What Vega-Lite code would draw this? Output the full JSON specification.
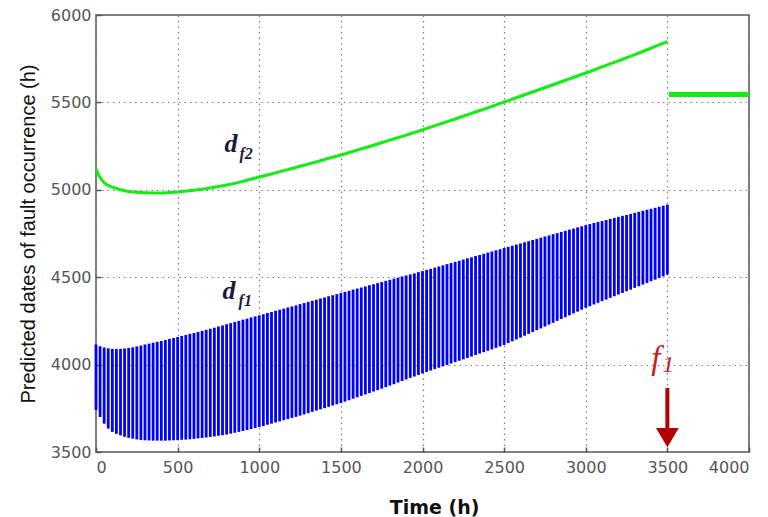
{
  "$schema": "https://vega.github.io/schema/vega-lite/v6.json",
  "width": 653,
  "height": 437,
  "autosize": {"type": "none"},
  "padding": {"left": 96, "top": 15, "right": 19, "bottom": 65},
  "background": "white",
  "config": {
    "view": {"stroke": "#555555", "strokeWidth": 1.5},
    "axis": {
      "labelFont": "DejaVu Sans",
      "labelFontSize": 16,
      "labelColor": "#555555",
      "gridColor": "#7a7a7a",
      "gridDash": [1.5, 4],
      "gridWidth": 1.2,
      "gridOpacity": 1,
      "domain": false,
      "tickColor": "#555555",
      "tickSize": -5,
      "tickWidth": 1.5,
      "format": "d"
    }
  },
  "datasets": {
    "band": [
      {"x":0,"lo":3740,"hi":4115},{"x":25,"lo":3700,"hi":4105},{"x":50,"lo":3662,"hi":4098},{"x":75,"lo":3634,"hi":4093},
      {"x":100,"lo":3615,"hi":4090},{"x":125,"lo":3604,"hi":4089},{"x":150,"lo":3595,"hi":4090},{"x":175,"lo":3587,"hi":4092},
      {"x":200,"lo":3581,"hi":4095},{"x":225,"lo":3576,"hi":4099},{"x":250,"lo":3572,"hi":4104},{"x":275,"lo":3569,"hi":4109},
      {"x":300,"lo":3567,"hi":4115},{"x":325,"lo":3566,"hi":4120},{"x":350,"lo":3565,"hi":4125},{"x":375,"lo":3565,"hi":4130},
      {"x":400,"lo":3565,"hi":4135},{"x":425,"lo":3565,"hi":4141},{"x":450,"lo":3566,"hi":4147},{"x":475,"lo":3567,"hi":4152},
      {"x":500,"lo":3568,"hi":4158},{"x":525,"lo":3570,"hi":4164},{"x":550,"lo":3571,"hi":4170},{"x":575,"lo":3573,"hi":4176},
      {"x":600,"lo":3575,"hi":4181},{"x":625,"lo":3578,"hi":4187},{"x":650,"lo":3580,"hi":4193},{"x":675,"lo":3583,"hi":4199},
      {"x":700,"lo":3586,"hi":4205},{"x":725,"lo":3589,"hi":4211},{"x":750,"lo":3593,"hi":4218},{"x":775,"lo":3596,"hi":4224},
      {"x":800,"lo":3600,"hi":4231},{"x":825,"lo":3605,"hi":4237},{"x":850,"lo":3610,"hi":4244},{"x":875,"lo":3615,"hi":4250},
      {"x":900,"lo":3620,"hi":4257},{"x":925,"lo":3626,"hi":4263},{"x":950,"lo":3631,"hi":4270},{"x":975,"lo":3637,"hi":4276},
      {"x":1000,"lo":3643,"hi":4282},{"x":1025,"lo":3649,"hi":4288},{"x":1050,"lo":3656,"hi":4295},{"x":1075,"lo":3662,"hi":4301},
      {"x":1100,"lo":3669,"hi":4308},{"x":1125,"lo":3675,"hi":4314},{"x":1150,"lo":3682,"hi":4320},{"x":1175,"lo":3688,"hi":4327},
      {"x":1200,"lo":3695,"hi":4333},{"x":1225,"lo":3701,"hi":4339},{"x":1250,"lo":3708,"hi":4346},{"x":1275,"lo":3715,"hi":4352},
      {"x":1300,"lo":3722,"hi":4359},{"x":1325,"lo":3730,"hi":4365},{"x":1350,"lo":3737,"hi":4371},{"x":1375,"lo":3744,"hi":4378},
      {"x":1400,"lo":3751,"hi":4384},{"x":1425,"lo":3758,"hi":4391},{"x":1450,"lo":3766,"hi":4397},{"x":1475,"lo":3773,"hi":4403},
      {"x":1500,"lo":3780,"hi":4410},{"x":1525,"lo":3788,"hi":4416},{"x":1550,"lo":3796,"hi":4422},{"x":1575,"lo":3805,"hi":4429},
      {"x":1600,"lo":3813,"hi":4435},{"x":1625,"lo":3821,"hi":4441},{"x":1650,"lo":3829,"hi":4447},{"x":1675,"lo":3837,"hi":4454},
      {"x":1700,"lo":3846,"hi":4460},{"x":1725,"lo":3854,"hi":4466},{"x":1750,"lo":3862,"hi":4472},{"x":1775,"lo":3871,"hi":4479},
      {"x":1800,"lo":3880,"hi":4485},{"x":1825,"lo":3888,"hi":4491},{"x":1850,"lo":3897,"hi":4497},{"x":1875,"lo":3906,"hi":4504},
      {"x":1900,"lo":3915,"hi":4510},{"x":1925,"lo":3924,"hi":4516},{"x":1950,"lo":3932,"hi":4522},{"x":1975,"lo":3941,"hi":4529},
      {"x":2000,"lo":3950,"hi":4535},{"x":2025,"lo":3958,"hi":4542},{"x":2050,"lo":3966,"hi":4548},{"x":2075,"lo":3974,"hi":4555},
      {"x":2100,"lo":3982,"hi":4561},{"x":2125,"lo":3990,"hi":4568},{"x":2150,"lo":3998,"hi":4575},{"x":2175,"lo":4006,"hi":4581},
      {"x":2200,"lo":4014,"hi":4588},{"x":2225,"lo":4022,"hi":4594},{"x":2250,"lo":4030,"hi":4601},{"x":2275,"lo":4038,"hi":4608},
      {"x":2300,"lo":4046,"hi":4614},{"x":2325,"lo":4055,"hi":4621},{"x":2350,"lo":4063,"hi":4627},{"x":2375,"lo":4071,"hi":4634},
      {"x":2400,"lo":4079,"hi":4641},{"x":2425,"lo":4087,"hi":4647},{"x":2450,"lo":4096,"hi":4654},{"x":2475,"lo":4104,"hi":4660},
      {"x":2500,"lo":4112,"hi":4667},{"x":2525,"lo":4123,"hi":4674},{"x":2550,"lo":4133,"hi":4680},{"x":2575,"lo":4144,"hi":4687},
      {"x":2600,"lo":4154,"hi":4693},{"x":2625,"lo":4165,"hi":4700},{"x":2650,"lo":4176,"hi":4706},{"x":2675,"lo":4186,"hi":4713},
      {"x":2700,"lo":4197,"hi":4719},{"x":2725,"lo":4207,"hi":4726},{"x":2750,"lo":4218,"hi":4733},{"x":2775,"lo":4229,"hi":4739},
      {"x":2800,"lo":4239,"hi":4746},{"x":2825,"lo":4250,"hi":4752},{"x":2850,"lo":4261,"hi":4759},{"x":2875,"lo":4271,"hi":4765},
      {"x":2900,"lo":4282,"hi":4772},{"x":2925,"lo":4293,"hi":4778},{"x":2950,"lo":4303,"hi":4785},{"x":2975,"lo":4314,"hi":4791},
      {"x":3000,"lo":4325,"hi":4798},{"x":3025,"lo":4334,"hi":4804},{"x":3050,"lo":4344,"hi":4810},{"x":3075,"lo":4353,"hi":4816},
      {"x":3100,"lo":4363,"hi":4821},{"x":3125,"lo":4372,"hi":4827},{"x":3150,"lo":4382,"hi":4833},{"x":3175,"lo":4391,"hi":4839},
      {"x":3200,"lo":4401,"hi":4845},{"x":3225,"lo":4410,"hi":4851},{"x":3250,"lo":4420,"hi":4856},{"x":3275,"lo":4429,"hi":4862},
      {"x":3300,"lo":4439,"hi":4868},{"x":3325,"lo":4448,"hi":4874},{"x":3350,"lo":4458,"hi":4880},{"x":3375,"lo":4467,"hi":4886},
      {"x":3400,"lo":4477,"hi":4891},{"x":3425,"lo":4486,"hi":4897},{"x":3450,"lo":4496,"hi":4903},{"x":3475,"lo":4505,"hi":4909},
      {"x":3500,"lo":4515,"hi":4915}
    ],
    "green": [
      {"x":0,"y":5120},{"x":25,"y":5070},{"x":50,"y":5040},{"x":100,"y":5015},{"x":150,"y":5000},{"x":200,"y":4990},
      {"x":300,"y":4983},{"x":400,"y":4982},{"x":500,"y":4988},{"x":600,"y":4997},{"x":700,"y":5010},{"x":800,"y":5027},
      {"x":900,"y":5048},{"x":1000,"y":5073},{"x":1100,"y":5097},{"x":1200,"y":5122},{"x":1300,"y":5147},{"x":1400,"y":5173},
      {"x":1500,"y":5199},{"x":1600,"y":5227},{"x":1700,"y":5255},{"x":1800,"y":5284},{"x":1900,"y":5313},{"x":2000,"y":5343},
      {"x":2100,"y":5374},{"x":2200,"y":5405},{"x":2300,"y":5437},{"x":2400,"y":5469},{"x":2500,"y":5502},{"x":2600,"y":5535},
      {"x":2700,"y":5568},{"x":2800,"y":5601},{"x":2900,"y":5635},{"x":3000,"y":5668},{"x":3100,"y":5703},{"x":3200,"y":5738},
      {"x":3300,"y":5773},{"x":3400,"y":5810},{"x":3500,"y":5848}
    ]
  },
  "layer": [
    {
      "data": {"name": "band"},
      "mark": {"type": "rule", "color": "#0000ff", "strokeWidth": 2.8},
      "encoding": {
        "x": {"field": "x", "type": "quantitative", "scale": {"domain": [0, 4000], "nice": false, "zero": false},
          "axis": {"values": [0,500,1000,1500,2000,2500,3000,3500,4000], "grid": true, "labelPadding": 12,
            "title": "Time (h)", "titleFont": "DejaVu Sans", "titleFontSize": 19, "titleFontWeight": "bold", "titleColor": "#111111",
            "titlePadding": 23, "titleX": 338}},
        "y": {"field": "lo", "type": "quantitative", "scale": {"domain": [3500, 6000], "nice": false, "zero": false},
          "axis": {"values": [3500,4000,4500,5000,5500,6000], "grid": true, "labelPadding": 10,
            "title": "Predicted dates of fault occurrence (h)", "titleFont": "Liberation Sans", "titleFontSize": 20,
            "titleFontWeight": "normal", "titleColor": "#111111", "titlePadding": 12}},
        "y2": {"field": "hi"}
      }
    },
    {
      "data": {"name": "green"},
      "mark": {"type": "line", "color": "#11ee11", "strokeWidth": 3, "interpolate": "monotone"},
      "encoding": {
        "x": {"field": "x", "type": "quantitative"},
        "y": {"field": "y", "type": "quantitative"}
      }
    },
    {
      "data": {"values": [{"x": 3510, "x2": 4000, "y": 5545}]},
      "mark": {"type": "rule", "color": "#11ee11", "strokeWidth": 5},
      "encoding": {
        "x": {"field": "x", "type": "quantitative"},
        "x2": {"field": "x2"},
        "y": {"field": "y", "type": "quantitative"}
      }
    },
    {
      "data": {"values": [{"x": 3500, "y": 3866, "y2": 3625}]},
      "mark": {"type": "rule", "color": "#b40000", "strokeWidth": 4},
      "encoding": {
        "x": {"field": "x", "type": "quantitative"},
        "y": {"field": "y", "type": "quantitative"},
        "y2": {"field": "y2"}
      }
    },
    {
      "data": {"values": [{"x": 3500, "y": 3582}]},
      "mark": {"type": "point", "shape": "M-1,-0.85L1,-0.85L0,0.85Z", "size": 520, "filled": true, "color": "#b40000", "opacity": 1},
      "encoding": {
        "x": {"field": "x", "type": "quantitative"},
        "y": {"field": "y", "type": "quantitative"}
      }
    },
    {
      "data": {"values": [{"x": 827, "y": 5262, "t": "d"}, {"x": 815, "y": 4421, "t": "d"}]},
      "mark": {"type": "text", "font": "Liberation Serif", "fontSize": 26, "fontStyle": "italic", "fontWeight": "bold", "color": "#1a1a3a", "baseline": "middle", "align": "center"},
      "encoding": {
        "x": {"field": "x", "type": "quantitative"},
        "y": {"field": "y", "type": "quantitative"},
        "text": {"field": "t"}
      }
    },
    {
      "data": {"values": [{"x": 920, "y": 5205, "t": "f2"}, {"x": 914, "y": 4366, "t": "f1"}]},
      "mark": {"type": "text", "font": "Liberation Serif", "fontSize": 16, "fontStyle": "italic", "fontWeight": "bold", "color": "#1a1a3a", "baseline": "middle", "align": "center"},
      "encoding": {
        "x": {"field": "x", "type": "quantitative"},
        "y": {"field": "y", "type": "quantitative"},
        "text": {"field": "t"}
      }
    },
    {
      "data": {"values": [{"x": 3430, "y": 4030, "t": "f"}]},
      "mark": {"type": "text", "font": "Liberation Serif", "fontSize": 33, "fontStyle": "italic", "color": "#c42020", "baseline": "middle", "align": "center"},
      "encoding": {
        "x": {"field": "x", "type": "quantitative"},
        "y": {"field": "y", "type": "quantitative"},
        "text": {"field": "t"}
      }
    },
    {
      "data": {"values": [{"x": 3505, "y": 3995, "t": "1"}]},
      "mark": {"type": "text", "font": "Liberation Serif", "fontSize": 24, "fontStyle": "italic", "color": "#c42020", "baseline": "middle", "align": "center"},
      "encoding": {
        "x": {"field": "x", "type": "quantitative"},
        "y": {"field": "y", "type": "quantitative"},
        "text": {"field": "t"}
      }
    }
  ]
}
